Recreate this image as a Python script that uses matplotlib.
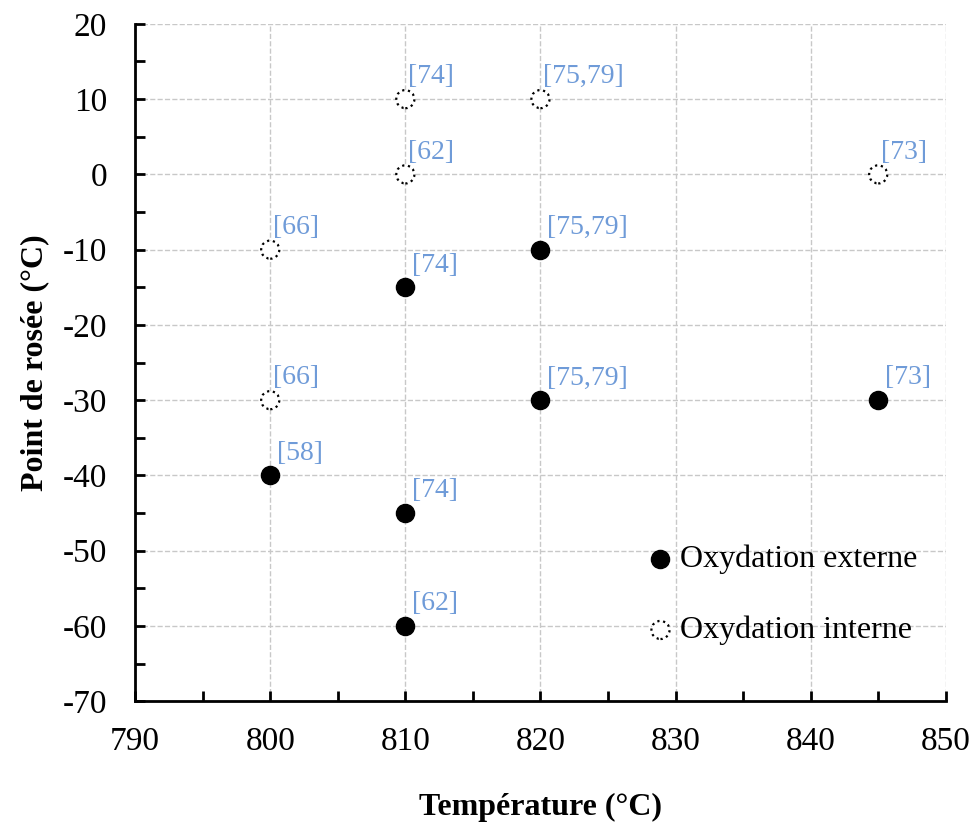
import matplotlib
matplotlib.use("Agg")
import matplotlib.pyplot as plt
from matplotlib.ticker import MultipleLocator

plt.rcParams['font.family'] = ['Liberation Serif', 'DejaVu Serif']
plt.rcParams['axes.unicode_minus'] = False

# external oxidation (filled)
ext_T = [800, 810, 810, 810, 820, 820, 845]
ext_dp = [-40, -15, -45, -60, -10, -30, -30]
ext_ref = ['[58]', '[74]', '[74]', '[62]', '[75,79]', '[75,79]', '[73]']

# internal oxidation (open)
int_T = [800, 800, 810, 810, 820, 845]
int_dp = [-10, -30, 10, 0, 10, 0]
int_ref = ['[66]', '[66]', '[74]', '[62]', '[75,79]', '[73]']

fig = plt.figure(figsize=(9.72, 8.23), dpi=100)
ax = fig.add_axes([0.139, 0.148, 0.834, 0.823])

ax.scatter(ext_T, ext_dp, s=170, c='black', edgecolors='black', zorder=3,
           label='Oxydation externe')
ax.scatter(int_T, int_dp, s=170, facecolors='white', edgecolors='black',
           linestyles=':', linewidths=1.6, zorder=3, label='Oxydation interne')

blue = '#6f9bd8'
for x, y, t in zip(ext_T, ext_dp, ext_ref):
    ax.annotate(t, (x, y), xytext=(5, 7), textcoords='offset points',
                color=blue, fontsize=20, ha='left', va='bottom')
for x, y, t in zip(int_T, int_dp, int_ref):
    ax.annotate(t, (x, y), xytext=(2, 7), textcoords='offset points',
                color=blue, fontsize=20, ha='left', va='bottom')

ax.set_xlim(790, 850)
ax.set_ylim(-70, 20)
ax.xaxis.set_major_locator(MultipleLocator(10))
ax.xaxis.set_minor_locator(MultipleLocator(5))
ax.yaxis.set_major_locator(MultipleLocator(10))
ax.yaxis.set_minor_locator(MultipleLocator(5))
ax.tick_params(which='both', direction='in', length=7, width=2,
               labelsize=24)
ax.tick_params(axis='x', which='both', pad=18)
ax.tick_params(axis='y', which='both', pad=20)

ax.spines['top'].set_visible(False)
ax.spines['right'].set_visible(False)
ax.spines['left'].set_linewidth(2)
ax.spines['bottom'].set_linewidth(2)

ax.grid(which='major', color='#c8c8c8', linestyle='--', linewidth=1)
ax.set_axisbelow(True)

ax.set_xlabel('Température (°C)', fontsize=23, fontweight='bold', labelpad=26)
ax.set_ylabel('Point de rosée (°C)', fontsize=23, fontweight='bold', labelpad=10)

ax.legend(loc='lower right', bbox_to_anchor=(1.0, 0.04), frameon=False,
          fontsize=23, labelspacing=1.3, handletextpad=0.1,
          handlelength=1.0, markerscale=1.0)

fig.savefig('out.png', dpi=100)
